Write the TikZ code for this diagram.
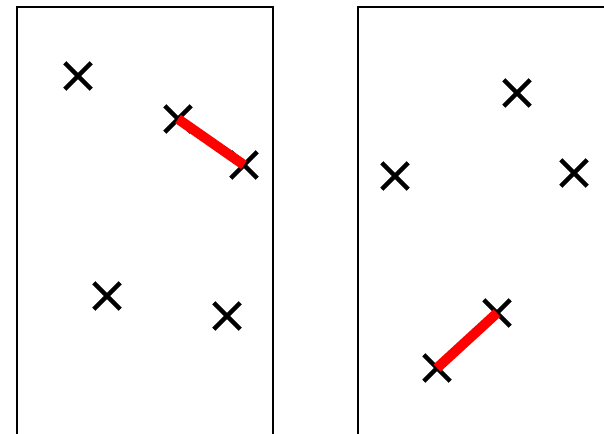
\documentclass[tikz,border=0pt]{standalone}
\usepackage{xcolor}
\definecolor{pairred}{HTML}{FF0000}
\usepackage{tikz}
\usetikzlibrary{shapes.misc}

\begin{document}
\begin{tikzpicture}[x=1pt, y=-1pt,
  sample/.style={cross out, draw=black, line width=4.4pt, minimum size=22pt, inner sep=0pt},
  closest/.style={draw=pairred, line width=10pt}]
  \useasboundingbox (0,0) rectangle (604,433);
  \clip (0,0) rectangle (604,433);
  % two halves of the point set
  \draw[line width=2.8pt] (17,7) rectangle (273,445);
  \draw[line width=2.8pt] (358,7) rectangle (620,445);
  % left half
  \node[sample] (l1) at (78,76) {};
  \node[sample] (l2) at (178,119) {};
  \node[sample] (l3) at (244,165) {};
  \node[sample] (l4) at (107,296) {};
  \node[sample] (l5) at (227,316) {};
  % right half
  \node[sample] (r1) at (517,93) {};
  \node[sample] (r2) at (395,176) {};
  \node[sample] (r3) at (574,173) {};
  \node[sample] (r4) at (497,313) {};
  \node[sample] (r5) at (437,368) {};
  % closest pairs
  \draw[closest] (l2.center) -- (l3.center);
  \draw[closest] (r5.center) -- (r4.center);
\end{tikzpicture}
\end{document}
